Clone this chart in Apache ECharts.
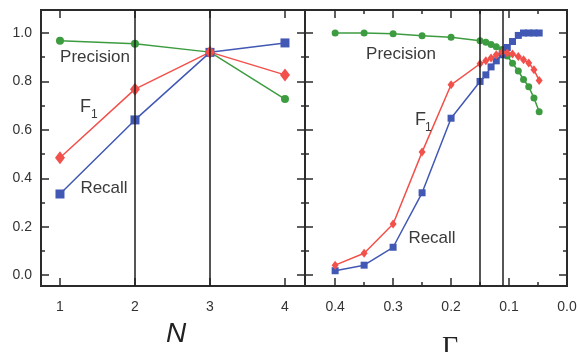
<!DOCTYPE html>
<html>
<head>
<meta charset="utf-8">
<script src="https://cdn.jsdelivr.net/npm/echarts@6/dist/echarts.min.js"></script>
<style>html,body{margin:0;padding:0;background:#fff;}#c{width:580px;height:352px;}</style>
</head>
<body>
<div id="c"></div>
<script>
// ---- data ----
const nValues = [1, 2, 3, 4];
const nPrecision = [0.968, 0.956, 0.921, 0.727];
const nF1 = [0.485, 0.768, 0.921, 0.827];
const nRecall = [0.335, 0.641, 0.920, 0.959];

const gammaValues = [0.40, 0.35, 0.30, 0.25, 0.20, 0.150, 0.140, 0.131, 0.122, 0.112, 0.103, 0.094, 0.084, 0.075, 0.066, 0.057, 0.048];
const gPrecision = [1.000, 1.000, 0.997, 0.989, 0.982, 0.968, 0.962, 0.952, 0.943, 0.932, 0.905, 0.875, 0.843, 0.808, 0.778, 0.732, 0.675];
const gF1 = [0.041, 0.090, 0.211, 0.508, 0.786, 0.873, 0.885, 0.897, 0.910, 0.920, 0.917, 0.913, 0.903, 0.890, 0.876, 0.848, 0.804];
const gRecall = [0.018, 0.041, 0.115, 0.340, 0.648, 0.800, 0.827, 0.860, 0.885, 0.910, 0.940, 0.965, 0.990, 1.000, 1.000, 1.000, 1.000];

const nTicks = [1, 2, 3, 4];
const gMajorTicks = [0, 0.1, 0.2, 0.3, 0.4];
const gMinorTicks = [0.05, 0.15, 0.25, 0.35];
const yMajorTicks = [0, 0.2, 0.4, 0.6, 0.8, 1.0];
const yMinorTicks = [0.1, 0.3, 0.5, 0.7, 0.9];
const nMarkers = [2, 3];
const gMarkers = [0.15, 0.11];

// ---- styling ----
const BLUE = '#4158b4', RED = '#f2504a', GREEN = '#3d9c40', AX = '#2b2b2b';
const FONT = 'Liberation Sans, Arial, sans-serif';

function xAx(grid, pos, min, max, ticks, len, labels, inverse, fmt) {
  return {
    type: 'value', gridIndex: grid, position: pos, min: min, max: max, inverse: !!inverse,
    axisLine: {show: false, onZero: false}, splitLine: {show: false},
    axisTick: {show: true, inside: true, length: len, customValues: ticks, lineStyle: {color: AX, width: 1.5}},
    axisLabel: labels ? {show: true, customValues: ticks, margin: 14, color: '#333', fontSize: 14, fontFamily: FONT, formatter: fmt} : {show: false}
  };
}
function yAx(grid, pos, ticks, len, labels) {
  return {
    type: 'value', gridIndex: grid, position: pos, min: -0.045, max: 1.095,
    axisLine: {show: false, onZero: false}, splitLine: {show: false},
    axisTick: {show: true, inside: true, length: len, customValues: ticks, lineStyle: {color: AX, width: 1.5}},
    axisLabel: labels ? {show: true, customValues: ticks, margin: 9, color: '#333', fontSize: 14, fontFamily: FONT, formatter: v => v.toFixed(1)} : {show: false}
  };
}
const gFmt = v => v.toFixed(1);

const xAxes = [
  xAx(0, 'bottom', 0.747, 4.267, nTicks, 8, true, false, v => String(v)),
  xAx(0, 'top', 0.747, 4.267, nTicks, 8, false),
  xAx(1, 'bottom', 0, 0.452, gMajorTicks, 8, true, true, gFmt),
  xAx(1, 'bottom', 0, 0.452, gMinorTicks, 4, false, true),
  xAx(1, 'top', 0, 0.452, gMajorTicks, 8, false, true),
  xAx(1, 'top', 0, 0.452, gMinorTicks, 4, false, true)
];
const yAxes = [
  yAx(0, 'left', yMajorTicks, 8, true),
  yAx(0, 'left', yMinorTicks, 4, false),
  yAx(0, 'right', yMajorTicks, 8, false),
  yAx(0, 'right', yMinorTicks, 4, false),
  yAx(1, 'left', yMajorTicks, 8, false),
  yAx(1, 'left', yMinorTicks, 4, false),
  yAx(1, 'right', yMajorTicks, 8, false),
  yAx(1, 'right', yMinorTicks, 4, false)
];

function pairs(xs, ys) { return xs.map((x, i) => [x, ys[i]]); }
function line(name, xs, ys, xi, yi, color, symbol, size, extra) {
  return Object.assign({
    name: name, type: 'line', xAxisIndex: xi, yAxisIndex: yi, data: pairs(xs, ys),
    symbol: symbol, symbolSize: size, showSymbol: true,
    lineStyle: {color: color, width: 1.5}, itemStyle: {color: color, borderWidth: 0},
    animation: false, silent: true
  }, extra || {});
}
function vlines(vals) {
  return {
    silent: true, symbol: ['none', 'none'], animation: false,
    label: {show: false},
    lineStyle: {color: '#1e1e1e', width: 1.5, type: 'solid'},
    data: vals.map(v => ({xAxis: v}))
  };
}

const series = [
  line('Precision', nValues, nPrecision, 0, 0, GREEN, 'circle', 8, {markLine: vlines(nMarkers)}),
  line('Recall', nValues, nRecall, 0, 0, BLUE, 'rect', 9),
  line('F1', nValues, nF1, 0, 0, RED, 'diamond', [10, 13]),
  line('Precision', gammaValues, gPrecision, 2, 4, GREEN, 'circle', 7, {markLine: vlines(gMarkers)}),
  line('Recall', gammaValues, gRecall, 2, 4, BLUE, 'rect', 7),
  line('F1', gammaValues, gF1, 2, 4, RED, 'diamond', [7, 9])
];

function txt(x, y, s, size, align, extra) {
  return {type: 'text', x: x, y: y, silent: true, z: 100,
    style: Object.assign({text: s, fill: '#3a3a3a', fontSize: size, fontFamily: FONT, align: align || 'center', verticalAlign: 'middle'}, extra || {})};
}
const graphics = [
  txt(95, 57, 'Precision', 17),
  txt(80, 107, 'F', 18, 'left'),
  txt(91, 115, '1', 12, 'left'),
  txt(104, 188, 'Recall', 17),
  txt(401, 54, 'Precision', 17),
  txt(415, 120, 'F', 18, 'left'),
  txt(425, 128, '1', 12, 'left'),
  txt(432, 238, 'Recall', 17),
  txt(176, 334, 'N', 28, 'center', {fontStyle: 'italic', fill: '#222'}),
  txt(450, 334, 'Γ', 28, 'center', {fontFamily: 'Liberation Serif, Times New Roman, serif', verticalAlign: 'top', fill: '#222'})
];

const chart = echarts.init(document.getElementById('c'), null, {renderer: 'canvas'});
chart.setOption({
  backgroundColor: '#fff',
  animation: false,
  grid: [
    {left: 41, top: 10, width: 264, height: 276, show: true, borderColor: AX, borderWidth: 2, backgroundColor: 'transparent'},
    {left: 305, top: 10, width: 262, height: 276, show: true, borderColor: AX, borderWidth: 2, backgroundColor: 'transparent'}
  ],
  xAxis: xAxes,
  yAxis: yAxes,
  series: series,
  graphic: graphics
});
</script>
</body>
</html>
